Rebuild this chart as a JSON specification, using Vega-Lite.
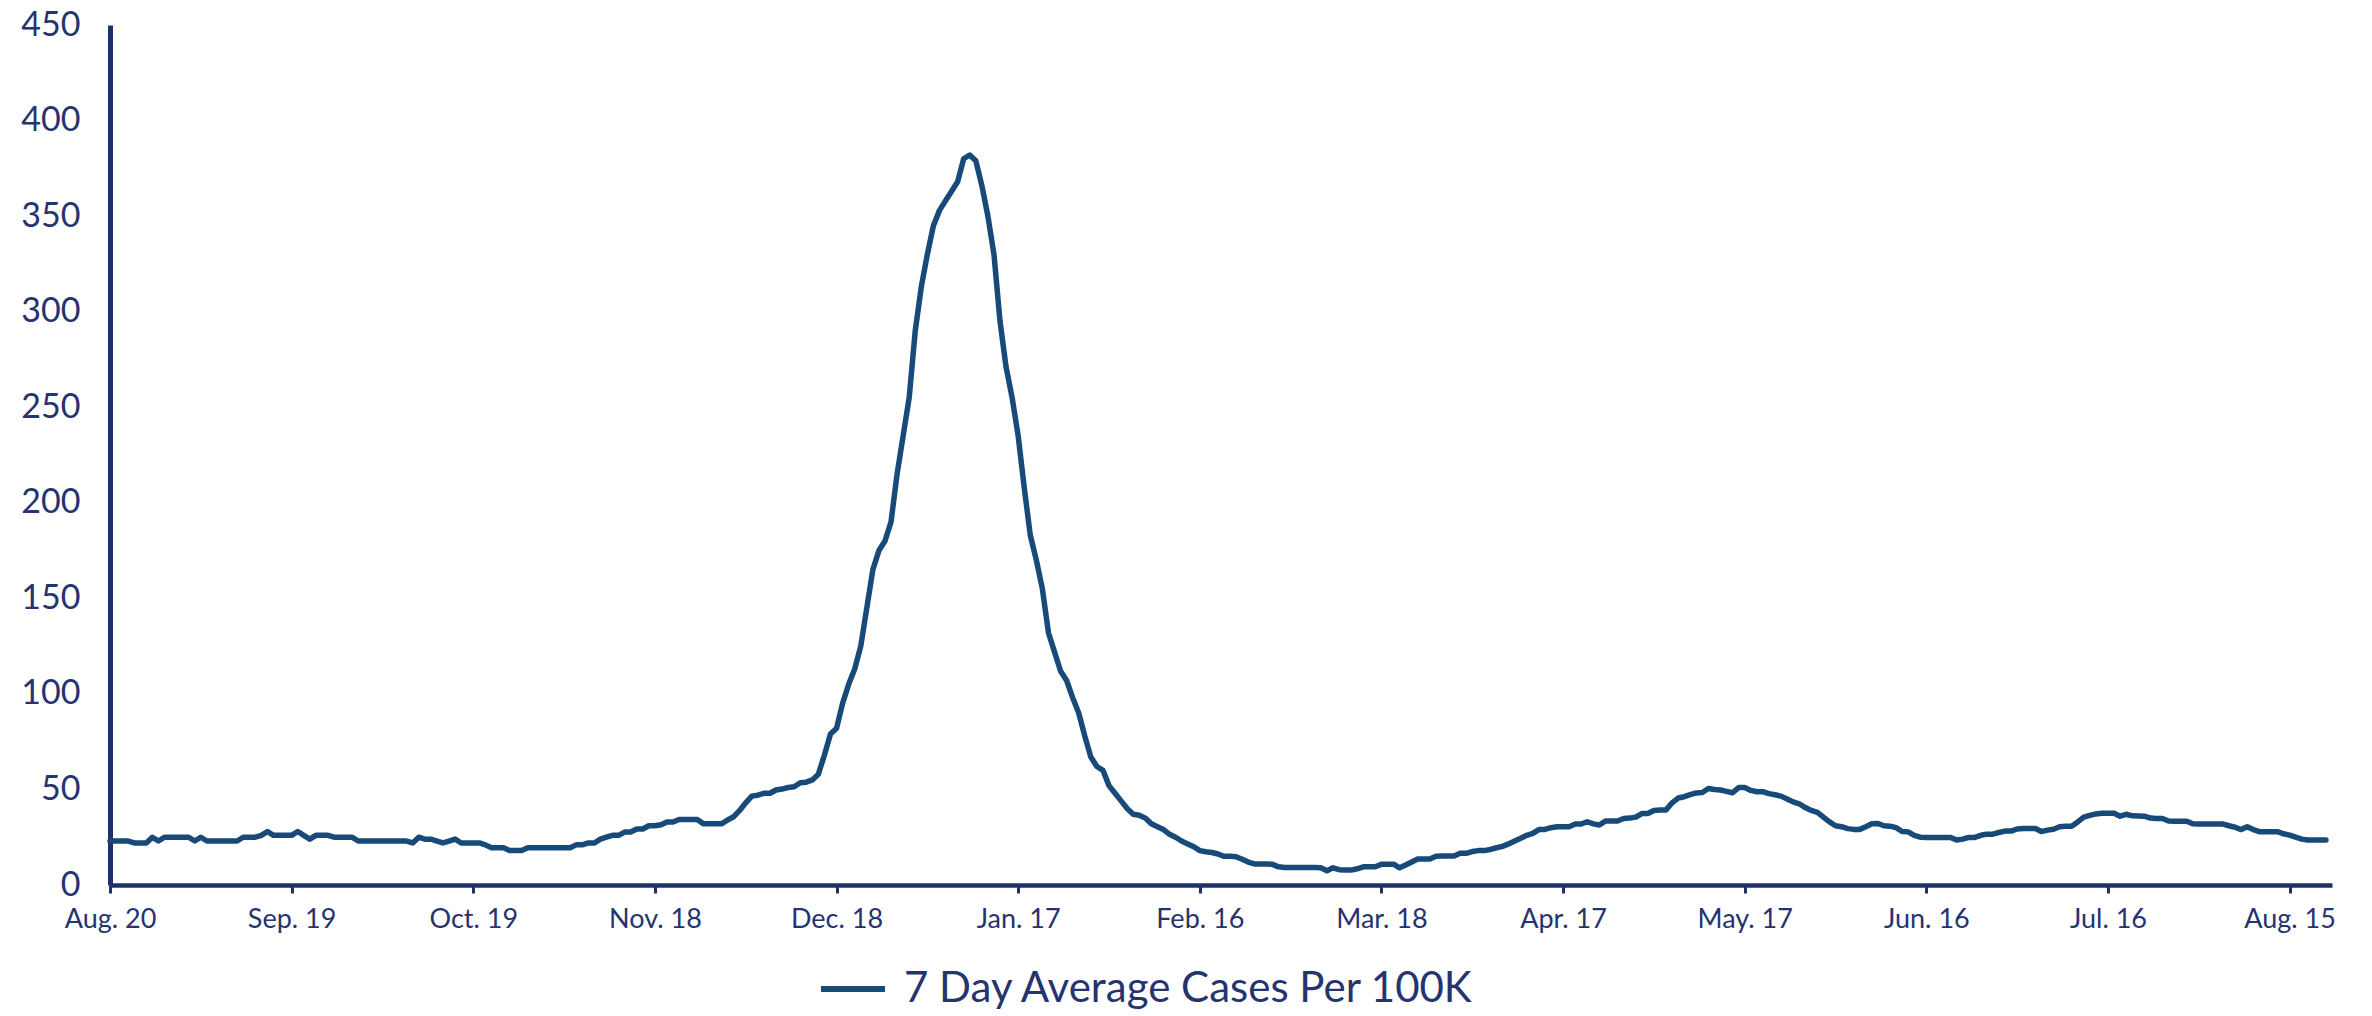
{
"$schema":"https://vega.github.io/schema/vega-lite/v6.json",
"width":2222,"height":860,
"autosize":{"type":"none"},
"padding":{"left":110,"top":25,"right":40,"bottom":131},
"background":"white",
"config":{"view":{"stroke":null},"font":"Lato"},
"data":{"values":[
{"date":"2020-08-20","cases":23},{"date":"2020-08-21","cases":23},{"date":"2020-08-22","cases":23},{"date":"2020-08-23","cases":23},{"date":"2020-08-24","cases":22},{"date":"2020-08-25","cases":22},{"date":"2020-08-26","cases":22},{"date":"2020-08-27","cases":25},{"date":"2020-08-28","cases":23},{"date":"2020-08-29","cases":25},{"date":"2020-08-30","cases":25},{"date":"2020-08-31","cases":25},
{"date":"2020-09-01","cases":25},{"date":"2020-09-02","cases":25},{"date":"2020-09-03","cases":23},{"date":"2020-09-04","cases":25},{"date":"2020-09-05","cases":23},{"date":"2020-09-06","cases":23},{"date":"2020-09-07","cases":23},{"date":"2020-09-08","cases":23},{"date":"2020-09-09","cases":23},{"date":"2020-09-10","cases":23},{"date":"2020-09-11","cases":25},{"date":"2020-09-12","cases":25},{"date":"2020-09-13","cases":25},{"date":"2020-09-14","cases":26},{"date":"2020-09-15","cases":28},{"date":"2020-09-16","cases":26},{"date":"2020-09-17","cases":26},{"date":"2020-09-18","cases":26},{"date":"2020-09-19","cases":26},{"date":"2020-09-20","cases":28},{"date":"2020-09-21","cases":26},{"date":"2020-09-22","cases":24},{"date":"2020-09-23","cases":26},{"date":"2020-09-24","cases":26},{"date":"2020-09-25","cases":26},{"date":"2020-09-26","cases":25},{"date":"2020-09-27","cases":25},{"date":"2020-09-28","cases":25},{"date":"2020-09-29","cases":25},{"date":"2020-09-30","cases":23},
{"date":"2020-10-01","cases":23},{"date":"2020-10-02","cases":23},{"date":"2020-10-03","cases":23},{"date":"2020-10-04","cases":23},{"date":"2020-10-05","cases":23},{"date":"2020-10-06","cases":23},{"date":"2020-10-07","cases":23},{"date":"2020-10-08","cases":23},{"date":"2020-10-09","cases":22},{"date":"2020-10-10","cases":25},{"date":"2020-10-11","cases":24},{"date":"2020-10-12","cases":24},{"date":"2020-10-13","cases":23},{"date":"2020-10-14","cases":22},{"date":"2020-10-15","cases":23},{"date":"2020-10-16","cases":24},{"date":"2020-10-17","cases":22},{"date":"2020-10-18","cases":22},{"date":"2020-10-19","cases":22},{"date":"2020-10-20","cases":22},{"date":"2020-10-21","cases":21},{"date":"2020-10-22","cases":19.5},{"date":"2020-10-23","cases":19.5},{"date":"2020-10-24","cases":19.5},{"date":"2020-10-25","cases":18},{"date":"2020-10-26","cases":18},{"date":"2020-10-27","cases":18},{"date":"2020-10-28","cases":19.5},{"date":"2020-10-29","cases":19.5},{"date":"2020-10-30","cases":19.5},{"date":"2020-10-31","cases":19.5},
{"date":"2020-11-01","cases":19.5},{"date":"2020-11-02","cases":19.5},{"date":"2020-11-03","cases":19.5},{"date":"2020-11-04","cases":19.5},{"date":"2020-11-05","cases":21},{"date":"2020-11-06","cases":21},{"date":"2020-11-07","cases":22},{"date":"2020-11-08","cases":22},{"date":"2020-11-09","cases":24},{"date":"2020-11-10","cases":25},{"date":"2020-11-11","cases":26},{"date":"2020-11-12","cases":26},{"date":"2020-11-13","cases":27.7},{"date":"2020-11-14","cases":27.7},{"date":"2020-11-15","cases":29.3},{"date":"2020-11-16","cases":29.3},{"date":"2020-11-17","cases":31},{"date":"2020-11-18","cases":31},{"date":"2020-11-19","cases":31.5},{"date":"2020-11-20","cases":33},{"date":"2020-11-21","cases":33},{"date":"2020-11-22","cases":34.3},{"date":"2020-11-23","cases":34.3},{"date":"2020-11-24","cases":34.3},{"date":"2020-11-25","cases":34.3},{"date":"2020-11-26","cases":32},{"date":"2020-11-27","cases":32},{"date":"2020-11-28","cases":32},{"date":"2020-11-29","cases":32},{"date":"2020-11-30","cases":34},
{"date":"2020-12-01","cases":35.7},{"date":"2020-12-02","cases":39},{"date":"2020-12-03","cases":43},{"date":"2020-12-04","cases":46.5},{"date":"2020-12-05","cases":47},{"date":"2020-12-06","cases":48},{"date":"2020-12-07","cases":48},{"date":"2020-12-08","cases":49.7},{"date":"2020-12-09","cases":50.2},{"date":"2020-12-10","cases":51},{"date":"2020-12-11","cases":51.4},{"date":"2020-12-12","cases":53.5},{"date":"2020-12-13","cases":53.8},{"date":"2020-12-14","cases":55},{"date":"2020-12-15","cases":58},{"date":"2020-12-16","cases":68},{"date":"2020-12-17","cases":79},{"date":"2020-12-18","cases":82},{"date":"2020-12-19","cases":95},{"date":"2020-12-20","cases":105},{"date":"2020-12-21","cases":113},{"date":"2020-12-22","cases":125},{"date":"2020-12-23","cases":145},{"date":"2020-12-24","cases":165},{"date":"2020-12-25","cases":175},{"date":"2020-12-26","cases":180},{"date":"2020-12-27","cases":190},{"date":"2020-12-28","cases":215},{"date":"2020-12-29","cases":235},{"date":"2020-12-30","cases":255},{"date":"2020-12-31","cases":290},
{"date":"2021-01-01","cases":313},{"date":"2021-01-02","cases":330},{"date":"2021-01-03","cases":345},{"date":"2021-01-04","cases":353},{"date":"2021-01-05","cases":358},{"date":"2021-01-06","cases":363},{"date":"2021-01-07","cases":368},{"date":"2021-01-08","cases":380},{"date":"2021-01-09","cases":382},{"date":"2021-01-10","cases":379},{"date":"2021-01-11","cases":366},{"date":"2021-01-12","cases":350},{"date":"2021-01-13","cases":330},{"date":"2021-01-14","cases":295},{"date":"2021-01-15","cases":271},{"date":"2021-01-16","cases":255},{"date":"2021-01-17","cases":235},{"date":"2021-01-18","cases":208},{"date":"2021-01-19","cases":183},{"date":"2021-01-20","cases":170},{"date":"2021-01-21","cases":155},{"date":"2021-01-22","cases":132},{"date":"2021-01-23","cases":122},{"date":"2021-01-24","cases":112},{"date":"2021-01-25","cases":107},{"date":"2021-01-26","cases":98},{"date":"2021-01-27","cases":90},{"date":"2021-01-28","cases":78},{"date":"2021-01-29","cases":67},{"date":"2021-01-30","cases":62},{"date":"2021-01-31","cases":60},
{"date":"2021-02-01","cases":52},{"date":"2021-02-02","cases":48},{"date":"2021-02-03","cases":44},{"date":"2021-02-04","cases":40},{"date":"2021-02-05","cases":37},{"date":"2021-02-06","cases":36.5},{"date":"2021-02-07","cases":35},{"date":"2021-02-08","cases":32},{"date":"2021-02-09","cases":30.5},{"date":"2021-02-10","cases":29},{"date":"2021-02-11","cases":26.5},{"date":"2021-02-12","cases":25},{"date":"2021-02-13","cases":23},{"date":"2021-02-14","cases":21.5},{"date":"2021-02-15","cases":20},{"date":"2021-02-16","cases":18},{"date":"2021-02-17","cases":17.4},{"date":"2021-02-18","cases":17},{"date":"2021-02-19","cases":16.2},{"date":"2021-02-20","cases":15},{"date":"2021-02-21","cases":15},{"date":"2021-02-22","cases":14.8},{"date":"2021-02-23","cases":13.5},{"date":"2021-02-24","cases":12},{"date":"2021-02-25","cases":11},{"date":"2021-02-26","cases":11},{"date":"2021-02-27","cases":11},{"date":"2021-02-28","cases":10.8},
{"date":"2021-03-01","cases":9.5},{"date":"2021-03-02","cases":9.2},{"date":"2021-03-03","cases":9.2},{"date":"2021-03-04","cases":9.2},{"date":"2021-03-05","cases":9.2},{"date":"2021-03-06","cases":9.2},{"date":"2021-03-07","cases":9.2},{"date":"2021-03-08","cases":9},{"date":"2021-03-09","cases":7.5},{"date":"2021-03-10","cases":9},{"date":"2021-03-11","cases":8},{"date":"2021-03-12","cases":7.8},{"date":"2021-03-13","cases":7.8},{"date":"2021-03-14","cases":8.5},{"date":"2021-03-15","cases":9.5},{"date":"2021-03-16","cases":9.5},{"date":"2021-03-17","cases":9.5},{"date":"2021-03-18","cases":10.9},{"date":"2021-03-19","cases":10.9},{"date":"2021-03-20","cases":10.9},{"date":"2021-03-21","cases":9},{"date":"2021-03-22","cases":10.5},{"date":"2021-03-23","cases":12},{"date":"2021-03-24","cases":13.6},{"date":"2021-03-25","cases":13.6},{"date":"2021-03-26","cases":13.6},{"date":"2021-03-27","cases":15},{"date":"2021-03-28","cases":15.2},{"date":"2021-03-29","cases":15.2},{"date":"2021-03-30","cases":15.2},{"date":"2021-03-31","cases":16.6},
{"date":"2021-04-01","cases":16.6},{"date":"2021-04-02","cases":17.5},{"date":"2021-04-03","cases":18},{"date":"2021-04-04","cases":18},{"date":"2021-04-05","cases":18.6},{"date":"2021-04-06","cases":19.5},{"date":"2021-04-07","cases":20.2},{"date":"2021-04-08","cases":21.5},{"date":"2021-04-09","cases":23},{"date":"2021-04-10","cases":24.5},{"date":"2021-04-11","cases":26},{"date":"2021-04-12","cases":27},{"date":"2021-04-13","cases":29},{"date":"2021-04-14","cases":29.1},{"date":"2021-04-15","cases":30},{"date":"2021-04-16","cases":30.5},{"date":"2021-04-17","cases":30.5},{"date":"2021-04-18","cases":30.5},{"date":"2021-04-19","cases":31.9},{"date":"2021-04-20","cases":31.9},{"date":"2021-04-21","cases":33.1},{"date":"2021-04-22","cases":32},{"date":"2021-04-23","cases":31.4},{"date":"2021-04-24","cases":33.5},{"date":"2021-04-25","cases":33.5},{"date":"2021-04-26","cases":33.5},{"date":"2021-04-27","cases":34.8},{"date":"2021-04-28","cases":35},{"date":"2021-04-29","cases":35.5},{"date":"2021-04-30","cases":37.4},
{"date":"2021-05-01","cases":37.4},{"date":"2021-05-02","cases":39},{"date":"2021-05-03","cases":39.2},{"date":"2021-05-04","cases":39.2},{"date":"2021-05-05","cases":43},{"date":"2021-05-06","cases":45.5},{"date":"2021-05-07","cases":46.2},{"date":"2021-05-08","cases":47.3},{"date":"2021-05-09","cases":48.2},{"date":"2021-05-10","cases":48.4},{"date":"2021-05-11","cases":50.5},{"date":"2021-05-12","cases":50},{"date":"2021-05-13","cases":49.7},{"date":"2021-05-14","cases":49},{"date":"2021-05-15","cases":48.3},{"date":"2021-05-16","cases":51},{"date":"2021-05-17","cases":51},{"date":"2021-05-18","cases":49.5},{"date":"2021-05-19","cases":48.8},{"date":"2021-05-20","cases":48.8},{"date":"2021-05-21","cases":47.8},{"date":"2021-05-22","cases":47.2},{"date":"2021-05-23","cases":46.5},{"date":"2021-05-24","cases":45},{"date":"2021-05-25","cases":43.5},{"date":"2021-05-26","cases":42.5},{"date":"2021-05-27","cases":40.5},{"date":"2021-05-28","cases":39},{"date":"2021-05-29","cases":38},{"date":"2021-05-30","cases":35.5},{"date":"2021-05-31","cases":33},
{"date":"2021-06-01","cases":31},{"date":"2021-06-02","cases":30.5},{"date":"2021-06-03","cases":29.5},{"date":"2021-06-04","cases":29.1},{"date":"2021-06-05","cases":29.1},{"date":"2021-06-06","cases":30.5},{"date":"2021-06-07","cases":32},{"date":"2021-06-08","cases":32.2},{"date":"2021-06-09","cases":31},{"date":"2021-06-10","cases":30.8},{"date":"2021-06-11","cases":30},{"date":"2021-06-12","cases":28},{"date":"2021-06-13","cases":27.8},{"date":"2021-06-14","cases":26},{"date":"2021-06-15","cases":25},{"date":"2021-06-16","cases":24.9},{"date":"2021-06-17","cases":24.9},{"date":"2021-06-18","cases":24.9},{"date":"2021-06-19","cases":24.9},{"date":"2021-06-20","cases":24.9},{"date":"2021-06-21","cases":23.5},{"date":"2021-06-22","cases":24},{"date":"2021-06-23","cases":24.9},{"date":"2021-06-24","cases":24.9},{"date":"2021-06-25","cases":26},{"date":"2021-06-26","cases":26.6},{"date":"2021-06-27","cases":26.6},{"date":"2021-06-28","cases":27.5},{"date":"2021-06-29","cases":28.2},{"date":"2021-06-30","cases":28.2},
{"date":"2021-07-01","cases":29.3},{"date":"2021-07-02","cases":29.6},{"date":"2021-07-03","cases":29.6},{"date":"2021-07-04","cases":29.6},{"date":"2021-07-05","cases":28},{"date":"2021-07-06","cases":28.7},{"date":"2021-07-07","cases":29.2},{"date":"2021-07-08","cases":30.5},{"date":"2021-07-09","cases":30.8},{"date":"2021-07-10","cases":30.8},{"date":"2021-07-11","cases":33},{"date":"2021-07-12","cases":35.5},{"date":"2021-07-13","cases":36.4},{"date":"2021-07-14","cases":37.2},{"date":"2021-07-15","cases":37.5},{"date":"2021-07-16","cases":37.5},{"date":"2021-07-17","cases":37.5},{"date":"2021-07-18","cases":36},{"date":"2021-07-19","cases":37},{"date":"2021-07-20","cases":36.2},{"date":"2021-07-21","cases":36.1},{"date":"2021-07-22","cases":36},{"date":"2021-07-23","cases":35},{"date":"2021-07-24","cases":34.8},{"date":"2021-07-25","cases":34.8},{"date":"2021-07-26","cases":33.5},{"date":"2021-07-27","cases":33.4},{"date":"2021-07-28","cases":33.4},{"date":"2021-07-29","cases":33.4},{"date":"2021-07-30","cases":32},{"date":"2021-07-31","cases":31.9},
{"date":"2021-08-01","cases":31.9},{"date":"2021-08-02","cases":31.9},{"date":"2021-08-03","cases":31.9},{"date":"2021-08-04","cases":31.9},{"date":"2021-08-05","cases":31},{"date":"2021-08-06","cases":30.2},{"date":"2021-08-07","cases":29},{"date":"2021-08-08","cases":30.5},{"date":"2021-08-09","cases":29},{"date":"2021-08-10","cases":27.9},{"date":"2021-08-11","cases":27.9},{"date":"2021-08-12","cases":27.9},{"date":"2021-08-13","cases":27.9},{"date":"2021-08-14","cases":26.8},{"date":"2021-08-15","cases":26.1},{"date":"2021-08-16","cases":25},{"date":"2021-08-17","cases":24},{"date":"2021-08-18","cases":23.5},{"date":"2021-08-19","cases":23.5},{"date":"2021-08-20","cases":23.5},{"date":"2021-08-21","cases":23.5}
]},
"mark":{"type":"line","strokeWidth":5.5,"strokeJoin":"round","strokeCap":"round"},
"encoding":{
"x":{"field":"date","type":"temporal",
 "scale":{"type":"utc","domain":[{"year":2020,"month":8,"date":20,"utc":true},{"year":2021,"month":8,"date":22,"utc":true}]},
 "axis":{"title":null,"grid":false,
  "values":[{"year":2020,"month":8,"date":20,"utc":true},{"year":2020,"month":9,"date":19,"utc":true},{"year":2020,"month":10,"date":19,"utc":true},{"year":2020,"month":11,"date":18,"utc":true},{"year":2020,"month":12,"date":18,"utc":true},{"year":2021,"month":1,"date":17,"utc":true},{"year":2021,"month":2,"date":16,"utc":true},{"year":2021,"month":3,"date":18,"utc":true},{"year":2021,"month":4,"date":17,"utc":true},{"year":2021,"month":5,"date":17,"utc":true},{"year":2021,"month":6,"date":16,"utc":true},{"year":2021,"month":7,"date":16,"utc":true},{"year":2021,"month":8,"date":15,"utc":true}],
  "labelExpr":"utcFormat(datum.value, '%b. %d')",
  "labelFlush":false,"labelOverlap":false,
  "domainColor":"#1F2F6B","domainWidth":4.5,
  "tickColor":"#1F2F6B","tickWidth":3,"tickSize":8,
  "labelFontSize":27,"labelColor":"#25346E","labelPadding":13}},
"y":{"field":"cases","type":"quantitative",
 "scale":{"domain":[0,450]},
 "axis":{"title":null,"grid":false,"ticks":false,
  "values":[0,50,100,150,200,250,300,350,400,450],
  "domainColor":"#1F2F6B","domainWidth":5,
  "labelFontSize":34,"labelColor":"#25346E","labelPadding":30}},
"color":{"datum":"7 Day Average Cases Per 100K","type":"nominal",
 "scale":{"range":["#174A78"]},
 "legend":{"title":null,"orient":"none","legendX":708,"legendY":929,"symbolType":"stroke","symbolSize":4096,"symbolStrokeWidth":6,"labelFontSize":42,"labelLimit":0,"labelColor":"#25346E","padding":0,"labelOffset":16}}
}
}
